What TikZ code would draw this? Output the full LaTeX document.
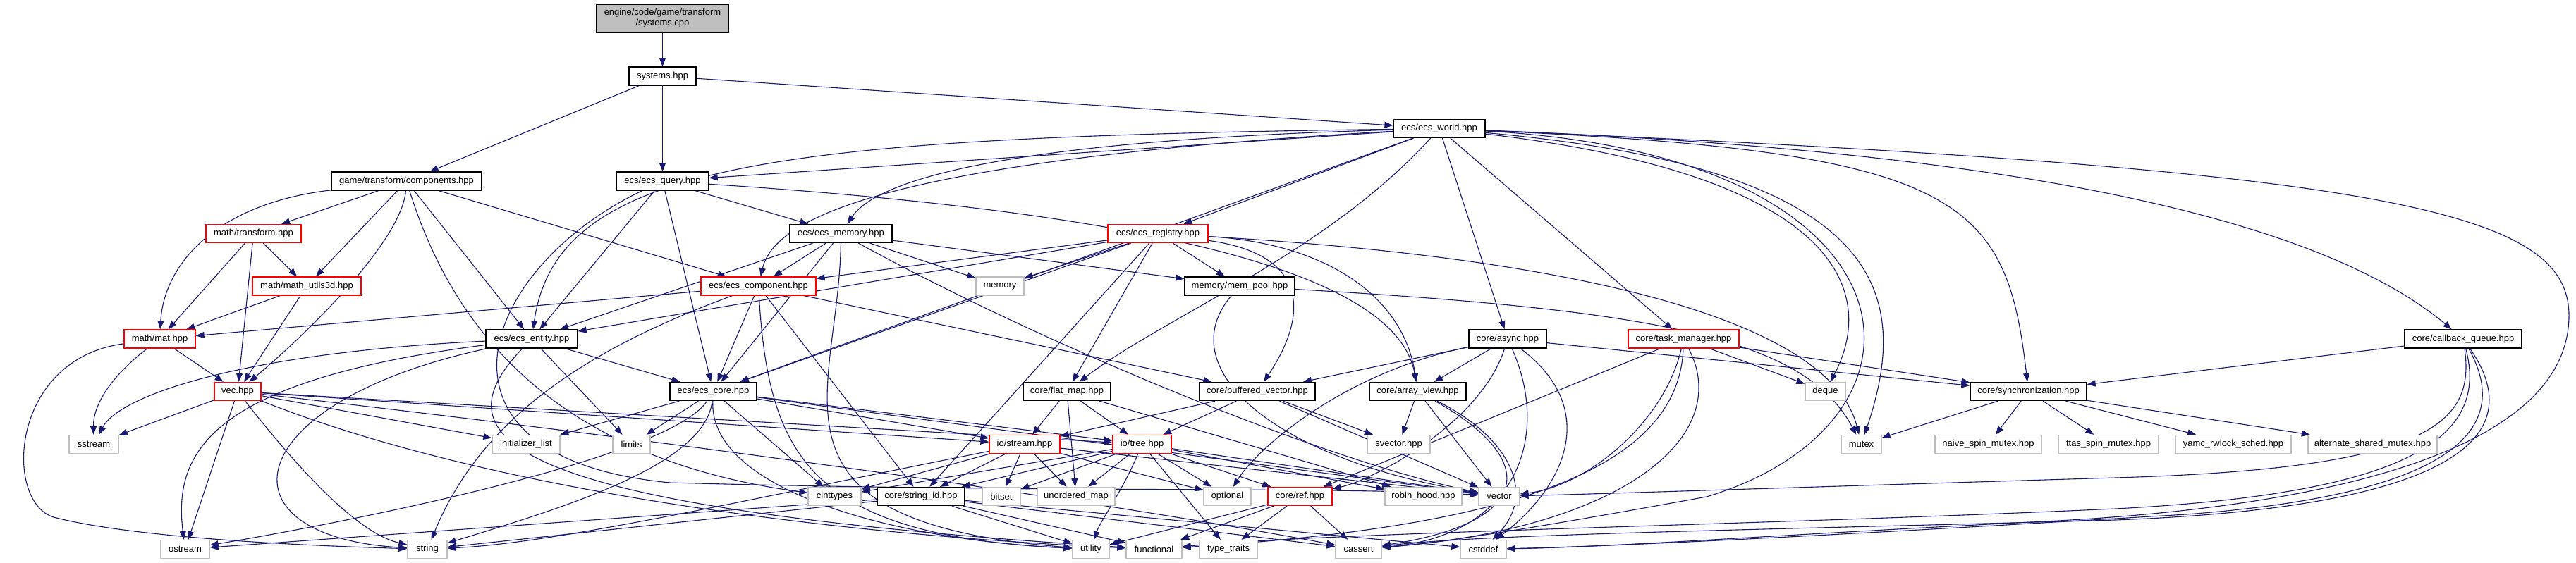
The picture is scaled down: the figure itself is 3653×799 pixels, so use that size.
\documentclass[tikz,border=0pt]{standalone}
\usepackage{fontspec}
\newfontfamily\dox{Liberation Sans}
\usetikzlibrary{arrows.meta}
\definecolor{edgec}{HTML}{191970}
\definecolor{greyb}{HTML}{BFBFBF}
\definecolor{rootf}{HTML}{BFBFBF}
\pgfdeclarelayer{edges}
\pgfsetlayers{edges,main}
\tikzset{
  nb/.style={draw=black, fill=white, line width=1.3pt, inner sep=0pt, font=\dox\fontsize{13}{15}\selectfont, minimum height=26pt},
  nr/.style={nb, draw=red},
  ng/.style={nb, draw=greyb},
  ed/.style={draw=edgec, line width=1.1pt, -{Triangle[length=12pt,width=9pt]}},
}
\begin{document}
\begin{tikzpicture}[x=1pt,y=-1pt]
\useasboundingbox (0,0) rectangle (3653,799);
% row 0-2
\node[nb, fill=rootf, minimum width=187pt, minimum height=40pt, align=center] (syscpp) at (939.5,26) {engine/code/game/transform\\/systems.cpp};
\node[nb, minimum width=95pt] (syshpp) at (939.5,108) {systems.hpp};
\node[nb, minimum width=130pt] (world) at (2041,182.5) {ecs/ecs\_world.hpp};
% row 3
\node[nb, minimum width=213pt] (comp) at (576.5,257) {game/transform/components.hpp};
\node[nb, minimum width=131pt] (query) at (939.5,257) {ecs/ecs\_query.hpp};
% row 4
\node[nr, minimum width=135pt] (mtrans) at (359.5,331.5) {math/transform.hpp};
\node[nb, minimum width=145pt] (ecsmem) at (1192.5,331.5) {ecs/ecs\_memory.hpp};
\node[nr, minimum width=142pt] (registry) at (1642,331.5) {ecs/ecs\_registry.hpp};
% row 5
\node[nr, minimum width=154pt] (mutils) at (435,406) {math/math\_utils3d.hpp};
\node[nr, minimum width=163pt] (component) at (1075.5,406) {ecs/ecs\_component.hpp};
\node[ng, minimum width=68pt] (memory) at (1418,406) {memory};
\node[nb, minimum width=156pt] (mempool) at (1758,406) {memory/mem\_pool.hpp};
% row 6
\node[nr, minimum width=101pt] (mat) at (226.5,481) {math/mat.hpp};
\node[nb, minimum width=130pt] (entity) at (754,481) {ecs/ecs\_entity.hpp};
\node[nb, minimum width=110pt] (async) at (2138,481) {core/async.hpp};
\node[nr, minimum width=157pt] (taskman) at (2387.5,481) {core/task\_manager.hpp};
\node[nb, minimum width=166pt] (callback) at (3493,481) {core/callback\_queue.hpp};
% row 7
\node[nr, minimum width=66pt] (vec) at (337,555.5) {vec.hpp};
\node[nb, minimum width=123pt] (core) at (1011.5,555.5) {ecs/ecs\_core.hpp};
\node[nb, minimum width=124pt] (flatmap) at (1513,555.5) {core/flat\_map.hpp};
\node[nb, minimum width=164pt] (bufvec) at (1783,555.5) {core/buffered\_vector.hpp};
\node[nb, minimum width=137pt] (arrayview) at (2010.5,555.5) {core/array\_view.hpp};
\node[ng, minimum width=57pt] (deque) at (2588.5,555.5) {deque};
\node[nb, minimum width=165pt] (sync) at (2876.5,555.5) {core/synchronization.hpp};
% row 8
\node[ng, minimum width=70pt] (sstream) at (133,630.5) {sstream};
\node[ng, minimum width=96pt] (initlist) at (746,630.5) {initializer\_list};
\node[ng, minimum width=53pt] (limits) at (895.5,630.5) {limits};
\node[nr, minimum width=100pt] (iostream) at (1453,630.5) {io/stream.hpp};
\node[nr, minimum width=83pt] (iotree) at (1619.5,630.5) {io/tree.hpp};
\node[ng, minimum width=89pt] (svector) at (1983.5,630.5) {svector.hpp};
\node[ng, minimum width=57pt] (mutex) at (2639.5,630.5) {mutex};
\node[ng, minimum width=151pt] (naive) at (2819.5,630.5) {naive\_spin\_mutex.hpp};
\node[ng, minimum width=142pt] (ttas) at (2990,630.5) {ttas\_spin\_mutex.hpp};
\node[ng, minimum width=164pt] (yamc) at (3167,630.5) {yamc\_rwlock\_sched.hpp};
\node[ng, minimum width=183pt] (alt) at (3364.5,630.5) {alternate\_shared\_mutex.hpp};
% row 9
\node[ng, minimum width=75pt] (cinttypes) at (1183.5,704.5) {cinttypes};
\node[nb, minimum width=124pt] (stringid) at (1306,704.5) {core/string\_id.hpp};
\node[ng, minimum width=54pt] (bitset) at (1420,704.5) {bitset};
\node[ng, minimum width=110pt] (umap) at (1526,704.5) {unordered\_map};
\node[ng, minimum width=67pt] (optional) at (1740.5,704.5) {optional};
\node[nr, minimum width=91pt] (ref) at (1843.5,704.5) {core/ref.hpp};
\node[ng, minimum width=109pt] (robinhood) at (2018.5,704.5) {robin\_hood.hpp};
\node[ng, minimum width=58pt] (vector) at (2126,704.5) {vector};
% row 10
\node[ng, minimum width=69pt] (ostream) at (262.5,779.5) {ostream};
\node[ng, minimum width=56pt] (string) at (606,779.5) {string};
\node[ng, minimum width=52pt] (utility) at (1547,779.5) {utility};
\node[ng, minimum width=79pt] (functional) at (1636.5,779.5) {functional};
\node[ng, minimum width=82pt] (typetraits) at (1742,779.5) {type\_traits};
\node[ng, minimum width=65pt] (cassert) at (1926.5,779.5) {cassert};
\node[ng, minimum width=65pt] (cstddef) at (2103.5,779.5) {cstddef};

\begin{pgfonlayer}{edges}
% root
\draw[ed] (syscpp) -- (syshpp);
\draw[ed] (syshpp) -- (comp);
\draw[ed] (syshpp) -- (query);
\draw[ed] (syshpp) -- (world);
% world
\draw[ed] (world) -- (query);
\draw[ed] (world) .. controls (1400,200) and (1240,260) .. (ecsmem);
\draw[ed] (world) .. controls (1300,225) and (1100,300) .. (component);
\draw[ed] (world) .. controls (1100,195) and (790,230) .. (entity);
\draw[ed] (world) -- (core);
\draw[ed] (world) -- (registry);
\draw[ed] (world) .. controls (1880,360) and (1650,450) .. (flatmap);
\draw[ed] (world) -- (async);
\draw[ed] (world) -- (taskman);
\draw[ed] (world) .. controls (2900,215) and (3300,320) .. (callback);
\draw[ed] (world) .. controls (2780,215) and (2845,280) .. (sync);
\draw[ed] (world) .. controls (2680,240) and (2710,420) .. (mutex);
\draw[ed] (world) .. controls (2620,250) and (2660,420) .. (deque);
\draw[ed] (world) .. controls (2740,220) and (2770,600) .. (2420,705) .. controls (2200,745) and (2050,770) .. (cassert);
\draw[ed] (world) .. controls (3400,240) and (3645,300) .. (3643,450) .. controls (3640,640) and (3300,720) .. (2900,740) .. controls (2500,760) and (2300,776) .. (cstddef);
% query
\draw[ed] (query) -- (ecsmem);
\draw[ed] (query) -- (entity);
\draw[ed] (query) -- (core);
\draw[ed] (query) .. controls (1600,300) and (1980,380) .. (arrayview);
\draw[ed] (query) .. controls (680,380) and (580,650) .. (950,685) .. controls (1500,700) and (1900,690) .. (vector);
% components
\draw[ed] (comp) -- (mtrans);
\draw[ed] (comp) -- (mutils);
\draw[ed] (comp) .. controls (300,290) and (232,380) .. (mat);
\draw[ed] (comp) .. controls (570,340) and (440,470) .. (vec);
\draw[ed] (comp) -- (entity);
\draw[ed] (comp) -- (component);
\draw[ed] (comp) .. controls (640,460) and (780,650) .. (cinttypes);
% math
\draw[ed] (mtrans) -- (mutils);
\draw[ed] (mtrans) -- (mat);
\draw[ed] (mtrans) -- (vec);
\draw[ed] (mutils) -- (mat);
\draw[ed] (mutils) -- (vec);
% ecs memory
\draw[ed] (ecsmem) -- (component);
\draw[ed] (ecsmem) -- (entity);
\draw[ed] (ecsmem) -- (core);
\draw[ed] (ecsmem) -- (memory);
\draw[ed] (ecsmem) -- (mempool);
\draw[ed] (ecsmem) .. controls (1500,500) and (1900,660) .. (vector);
\draw[ed] (ecsmem) .. controls (1190,560) and (1060,740) .. (utility);
% registry
\draw[ed] (registry) -- (component);
\draw[ed] (registry) -- (entity);
\draw[ed] (registry) -- (core);
\draw[ed] (registry) -- (memory);
\draw[ed] (registry) -- (mempool);
\draw[ed] (registry) -- (flatmap);
\draw[ed] (registry) -- (stringid);
\draw[ed] (registry) .. controls (1880,345) and (1990,420) .. (arrayview);
\draw[ed] (registry) .. controls (1850,360) and (1860,440) .. (bufvec);
\draw[ed] (registry) .. controls (2300,370) and (2600,470) .. (mutex);
% component
\draw[ed] (component) -- (mat);
\draw[ed] (component) -- (core);
\draw[ed] (component) .. controls (820,500) and (680,600) .. (string);
\draw[ed] (component) -- (stringid);
\draw[ed] (component) -- (bufvec);
\draw[ed] (component) .. controls (1090,650) and (1150,760) .. (utility);
% mem pool
\draw[ed] (mempool) .. controls (1660,520) and (1800,650) .. (vector);
\draw[ed] (mempool) .. controls (2350,440) and (2560,480) .. (mutex);
% mat
\draw[ed] (mat) -- (vec);
\draw[ed] (mat) .. controls (150,540) and (132,580) .. (sstream);
\draw[ed] (mat) .. controls (10,510) and (5,720) .. (80,735) .. controls (200,765) and (450,775) .. (string);
% entity
\draw[ed] (entity) -- (core);
\draw[ed] (entity) -- (limits);
\draw[ed] (entity) .. controls (350,500) and (170,560) .. (sstream);
\draw[ed] (entity) .. controls (300,540) and (245,640) .. (ostream);
\draw[ed] (entity) .. controls (340,570) and (300,760) .. (string);
\draw[ed] (entity) .. controls (620,620) and (700,720) .. (functional);
% vec
\draw[ed] (vec) -- (sstream);
\draw[ed] (vec) -- (ostream);
\draw[ed] (vec) -- (initlist);
\draw[ed] (vec) -- (iostream);
\draw[ed] (vec) -- (iotree);
\draw[ed] (vec) .. controls (450,700) and (520,760) .. (string);
\draw[ed] (vec) .. controls (700,700) and (1200,760) .. (functional);
\draw[ed] (vec) .. controls (900,620) and (1500,700) .. (cassert);
% core
\draw[ed] (core) -- (initlist);
\draw[ed] (core) -- (limits);
\draw[ed] (core) -- (cinttypes);
\draw[ed] (core) -- (iostream);
\draw[ed] (core) -- (iotree);
\draw[ed] (core) .. controls (1000,660) and (800,720) .. (string);
\draw[ed] (core) .. controls (950,650) and (500,740) .. (ostream);
\draw[ed] (core) .. controls (1005,690) and (1250,765) .. (utility);
\draw[ed] (core) -- (vector);
% async
\draw[ed] (async) -- (bufvec);
\draw[ed] (async) -- (arrayview);
\draw[ed] (async) -- (sync);
\draw[ed] (async) .. controls (1900,530) and (1780,640) .. (optional);
\draw[ed] (async) .. controls (2100,600) and (1950,680) .. (ref);
\draw[ed] (async) .. controls (2200,620) and (2150,760) .. (cassert);
\draw[ed] (async) .. controls (2270,580) and (2220,690) .. (cstddef);
% task manager
\draw[ed] (taskman) -- (deque);
\draw[ed] (taskman) -- (sync);
\draw[ed] (taskman) -- (ref);
\draw[ed] (taskman) .. controls (2360,600) and (2250,690) .. (vector);
\draw[ed] (taskman) .. controls (2380,680) and (2100,750) .. (functional);
\draw[ed] (taskman) .. controls (2460,620) and (2300,750) .. (cassert);
% callback queue
\draw[ed] (callback) -- (sync);
\draw[ed] (callback) .. controls (3510,600) and (3450,665) .. (3000,678) .. controls (2600,690) and (2300,700) .. (vector);
\draw[ed] (callback) .. controls (3530,620) and (3420,700) .. (3000,722) .. controls (2500,745) and (1900,755) .. (functional);
\draw[ed] (callback) .. controls (3590,620) and (3480,720) .. (3000,738) .. controls (2500,752) and (2100,758) .. (cassert);
\draw[ed] (callback) .. controls (3560,600) and (3500,700) .. (3100,730) .. controls (2600,760) and (2300,775) .. (cstddef);
% synchronization
\draw[ed] (sync) -- (mutex);
\draw[ed] (sync) -- (naive);
\draw[ed] (sync) -- (ttas);
\draw[ed] (sync) -- (yamc);
\draw[ed] (sync) -- (alt);
% array view
\draw[ed] (arrayview) -- (svector);
\draw[ed] (arrayview) -- (vector);
\draw[ed] (arrayview) .. controls (2180,650) and (2180,740) .. (cassert);
\draw[ed] (arrayview) .. controls (2140,620) and (2180,700) .. (cstddef);
% buffered vector
\draw[ed] (bufvec) -- (iostream);
\draw[ed] (bufvec) -- (iotree);
\draw[ed] (bufvec) -- (svector);
\draw[ed] (bufvec) -- (vector);
% flat map
\draw[ed] (flatmap) -- (iostream);
\draw[ed] (flatmap) -- (iotree);
\draw[ed] (flatmap) -- (umap);
\draw[ed] (flatmap) -- (robinhood);
% io stream
\draw[ed] (iostream) -- (cinttypes);
\draw[ed] (iostream) -- (stringid);
\draw[ed] (iostream) -- (bitset);
\draw[ed] (iostream) -- (umap);
\draw[ed] (iostream) -- (optional);
\draw[ed] (iostream) -- (vector);
\draw[ed] (iostream) .. controls (1100,700) and (800,770) .. (string);
% io tree
\draw[ed] (iotree) -- (cinttypes);
\draw[ed] (iotree) -- (stringid);
\draw[ed] (iotree) -- (bitset);
\draw[ed] (iotree) -- (umap);
\draw[ed] (iotree) -- (optional);
\draw[ed] (iotree) -- (ref);
\draw[ed] (iotree) -- (robinhood);
\draw[ed] (iotree) -- (vector);
\draw[ed] (iotree) -- (typetraits);
\draw[ed] (iotree) .. controls (1590,700) and (1560,740) .. (utility);
% string id
\draw[ed] (stringid) -- (ostream);
\draw[ed] (stringid) -- (string);
\draw[ed] (stringid) -- (utility);
\draw[ed] (stringid) -- (functional);
\draw[ed] (stringid) -- (cassert);
\draw[ed] (stringid) -- (cstddef);
% ref
\draw[ed] (ref) -- (cassert);
\draw[ed] (ref) -- (typetraits);
\draw[ed] (ref) -- (functional);
\draw[ed] (ref) -- (utility);
\end{pgfonlayer}
\end{tikzpicture}
\end{document}
